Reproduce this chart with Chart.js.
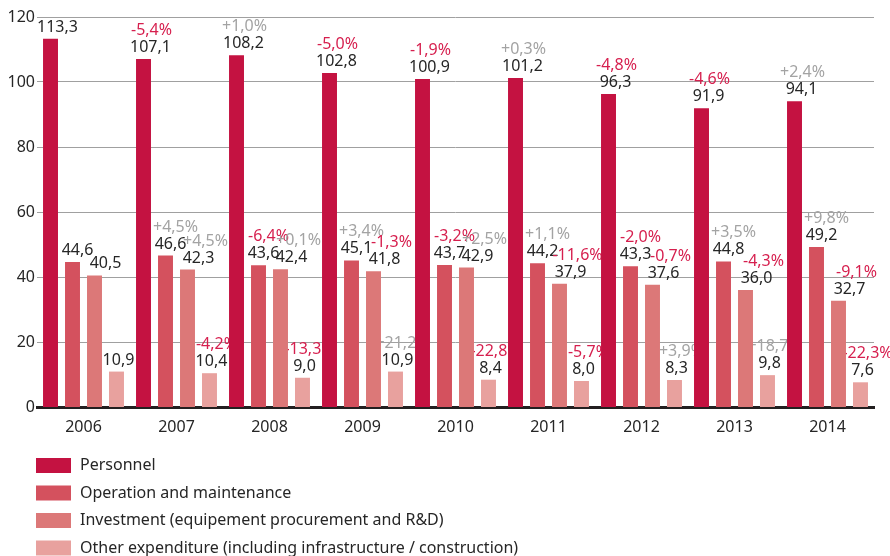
<!DOCTYPE html>
<html>
<head>
<meta charset="utf-8">
<title>Expenditure 2006-2014</title>
<script src="https://cdn.jsdelivr.net/npm/chart.js@4.4.1/dist/chart.umd.min.js"></script>
<style>
  body { margin: 0; background: #fff; }
  #expense-chart { display: block; }
</style>
</head>
<body>
<canvas id="expense-chart" width="890" height="556"></canvas>
<script>
// 데이터
const years = ['2006', '2007', '2008', '2009', '2010', '2011', '2012', '2013', '2014'];
const seriesNames = [
    'Personnel',
    'Operation and maintenance',
    'Investment (equipement procurement and R&D)',
    'Other expenditure (including infrastructure / construction)'
];
const personnel = [113.3, 107.1, 108.2, 102.8, 100.9, 101.2, 96.3, 91.9, 94.1];
const operation = [44.6, 46.6, 43.6, 45.1, 43.7, 44.2, 43.3, 44.8, 49.2];
const investment = [40.5, 42.3, 42.4, 41.8, 42.9, 37.9, 37.6, 36.0, 32.7];
const other = [10.9, 10.4, 9.0, 10.9, 8.4, 8.0, 8.3, 9.8, 7.6];

// 전년 대비 변화율 (%)
const personnelChange = [null, -5.4, 1.0, -5.0, -1.9, 0.3, -4.8, -4.6, 2.4];
const operationChange = [null, 4.5, -6.4, 3.4, -3.2, 1.1, -2.0, 3.5, 9.8];
const investmentChange = [null, 4.5, 0.1, -1.3, 2.5, -11.6, -0.7, -4.3, -9.1];
const otherChange = [null, -4.2, -13.3, 21.2, -22.8, -5.7, 3.9, 18.7, -22.3];

const yTicks = [0, 20, 40, 60, 80, 100, 120];

const FONT = '"Noto Sans", "Open Sans", sans-serif';

function fmtValue(v) {
    return v.toFixed(1).replace('.', ',');
}

function fmtChange(v) {
    return (v >= 0 ? '+' : '-') + Math.abs(v).toFixed(1).replace('.', ',') + '%';
}

// 라벨 그리기 - 막대 아래에 그려서 막대가 글자를 덮도록
const labelPlugin = {
    id: 'barLabels',
    beforeDatasetsDraw(chart) {
        const ctx = chart.ctx;
        ctx.save();
        ctx.textAlign = 'center';
        ctx.textBaseline = 'middle';
        chart.data.datasets.forEach((ds, di) => {
            const meta = chart.getDatasetMeta(di);
            meta.data.forEach((bar, i) => {
                const vy = bar.y - 11.5;
                ctx.font = '16px ' + FONT;
                ctx.fillStyle = '#262626';
                ctx.fillText(fmtValue(ds.data[i]), bar.x + ds.valueDx, vy);
                const ch = ds.changes[i];
                if (ch !== null) {
                    ctx.fillStyle = ch < 0 ? '#D61F4E' : '#A3A3A3';
                    ctx.fillText(fmtChange(ch), bar.x + ds.changeDx, vy - 17);
                }
            });
        });
        ctx.restore();
    }
};

// 범례 - 세로로 한 줄씩
const legendPlugin = {
    id: 'stackedLegend',
    afterDraw(chart) {
        const ctx = chart.ctx;
        ctx.save();
        ctx.font = '16px ' + FONT;
        ctx.textBaseline = 'middle';
        ctx.textAlign = 'left';
        chart.data.datasets.forEach((ds, i) => {
            const top = 458 + i * 27.5;
            ctx.fillStyle = ds.backgroundColor;
            ctx.fillRect(36, top, 35, 15);
            ctx.fillStyle = '#262626';
            ctx.fillText(ds.label, 80, top + 7.5);
        });
        ctx.restore();
    }
};

function createChart() {
    var ctx = document.getElementById('expense-chart').getContext('2d');
    var colors = ['#C41241', '#D4515E', '#DC7878', '#E8A19E'];
    var values = [personnel, operation, investment, other];
    var changes = [personnelChange, operationChange, investmentChange, otherChange];
    var valueShift = [7, 5, 11, 2];
    var changeShift = [8, 10, 18, 7];

    var chart = new Chart(ctx, {
        type: 'bar',
        data: {
            labels: years,
            datasets: seriesNames.map((name, i) => ({
                label: name,
                data: values[i],
                changes: changes[i],
                valueDx: valueShift[i],
                changeDx: changeShift[i],
                backgroundColor: colors[i],
                categoryPercentage: 0.946,
                barPercentage: 0.68
            }))
        },
        options: {
            responsive: false,
            animation: false,
            layout: {
                padding: { top: 17, right: 16, bottom: 119, left: 0 }
            },
            plugins: {
                legend: { display: false },
                tooltip: { enabled: false }
            },
            scales: {
                x: {
                    afterFit(scale) { scale.height = 30; },
                    grid: { display: false },
                    border: { color: '#231F20', width: 3 },
                    ticks: {
                        color: '#262626',
                        font: { family: FONT, size: 16 },
                        padding: 3
                    }
                },
                y: {
                    min: 0,
                    max: 120,
                    afterFit(scale) { scale.width = 37; },
                    afterBuildTicks(scale) {
                        scale.ticks = yTicks.map(v => ({ value: v }));
                    },
                    border: { display: false },
                    grid: {
                        color: '#A0A0A0',
                        lineWidth: c => (c.tick && c.tick.value === 0 ? 0 : 1),
                        drawTicks: false
                    },
                    ticks: {
                        color: '#262626',
                        font: { family: FONT, size: 16 },
                        padding: 2
                    }
                }
            }
        },
        plugins: [labelPlugin, legendPlugin]
    });
}

// 페이지 로드 시 실행
document.addEventListener('DOMContentLoaded', function() {
    createChart();
});
</script>
</body>
</html>
